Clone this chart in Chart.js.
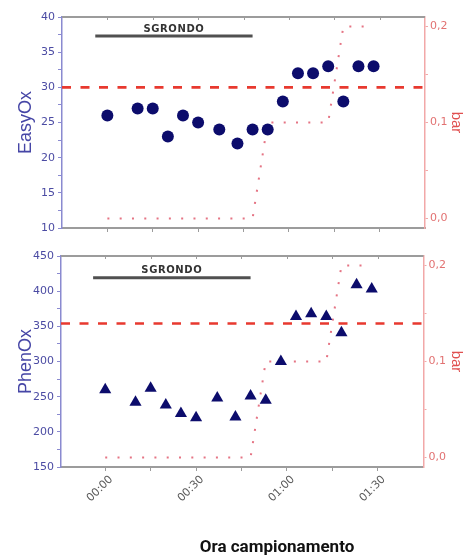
<!DOCTYPE html>
<html>
<head>
<meta charset="utf-8">
<script src="https://cdn.jsdelivr.net/npm/chart.js@4.4.1/dist/chart.umd.min.js"></script>
<style>
  html, body { margin: 0; padding: 0; background: #ffffff; }
  #wrap { position: relative; width: 463px; height: 557px; overflow: hidden; background: #fff; }
  #c1 { position: absolute; left: 0; top: 0; }
  #c2 { position: absolute; left: 0; top: 240px; }
  #xtitle { position: absolute; left: 277px; top: 536px; transform: translateX(-50%);
            font-family: Roboto, "Liberation Sans", sans-serif; font-weight: bold; font-size: 17px;
            line-height: 20px; color: #111; white-space: nowrap; }
</style>
</head>
<body>
<div id="wrap">
  <canvas id="c1" width="463" height="240"></canvas>
  <canvas id="c2" width="463" height="317"></canvas>
  <div id="xtitle">Ora campionamento</div>
</div>
<script>
// ---------------- data ----------------
const sampleMinutes = [0, 10, 15, 20, 25, 30, 37, 43, 48, 53, 58, 63, 68, 73, 78, 83, 88];
const easyOxValues  = [26, 27, 27, 23, 26, 25, 24, 22, 24, 24, 28, 32, 32, 33, 28, 33, 33];
const phenOxValues  = [260, 242, 262, 238, 226, 220, 248, 221, 251, 245, 300, 364, 368, 364, 341, 409, 403];

const pressureMinutes = [0, 48, 53, 73, 78, 88];
const pressureBar     = [0, 0, 0.1, 0.1, 0.2, 0.2];

const easyOxThreshold = 30;
const phenOxThreshold = 354;

const sgrondoLabel = 'SGRONDO';
const sgrondoMinutes = [-4, 48];
const sgrondoLevelEasyOx = 37.3;
const sgrondoLevelPhenOx = 419;

const xTickMinutes = [0, 15, 30, 45, 60, 75, 90];
const xTickLabels  = ['00:00', '', '00:30', '', '01:00', '', '01:30'];

const easyOxTicks      = [10, 12.5, 15, 17.5, 20, 22.5, 25, 27.5, 30, 32.5, 35, 37.5, 40];
const easyOxTickLabels = ['10', '', '15', '', '20', '', '25', '', '30', '', '35', '', '40'];
const phenOxTicks      = [150, 175, 200, 225, 250, 275, 300, 325, 350, 375, 400, 425, 450];
const phenOxTickLabels = ['150', '', '200', '', '250', '', '300', '', '350', '', '400', '', '450'];
const barTicks      = [0, 0.05, 0.1, 0.15, 0.2];
const barTickLabels = ['0,0', '', '0,1', '', '0,2'];

// ---------------- drawing ----------------
const BLUE_TXT = '#4b4ba3';
const BLUE_AX = '#8a8ad0';
const RED_TXT = '#e27272';
const RED_AX = '#f2a8a8';
const GRAY = '#9c9c9c';

const framePlugin = {
  id: 'frame',
  afterDatasetsDraw(chart, args, opts) {
    const { ctx, chartArea: a, scales } = chart;
    ctx.save();
    ctx.strokeStyle = GRAY;
    ctx.lineWidth = 2;
    ctx.beginPath(); ctx.moveTo(a.left, a.top); ctx.lineTo(a.right, a.top); ctx.stroke();
    ctx.lineWidth = 1;
    scales.x.ticks.forEach(t => {
      const px = Math.round(scales.x.getPixelForValue(t.value)) + 0.5;
      ctx.beginPath(); ctx.moveTo(px, a.top); ctx.lineTo(px, a.top + 3); ctx.stroke();
    });
    const x = scales.x.getPixelForValue((sgrondoMinutes[0] + sgrondoMinutes[1]) / 2);
    const y = scales.y.getPixelForValue(opts.level);
    ctx.font = 'bold 10px "DejaVu Sans"';
    try { ctx.letterSpacing = '0.6px'; } catch (e) {}
    ctx.fillStyle = '#333';
    ctx.textAlign = 'center';
    ctx.textBaseline = 'middle';
    ctx.fillText(sgrondoLabel, x, y - 7);
    ctx.restore();
  }
};

function ticksFrom(values) {
  return scale => { scale.ticks = values.map(v => ({ value: v })); };
}
function labelsFrom(values, labels) {
  return (v) => { const i = values.indexOf(v); return i >= 0 ? labels[i] : ''; };
}

function makePanel(id, o) {
  return new Chart(document.getElementById(id), {
    type: 'scatter',
    data: {
      datasets: [
        {
          label: 'points',
          data: sampleMinutes.map((m, i) => ({ x: m, y: o.values[i] })),
          pointStyle: o.pointStyle, pointRadius: o.radius,
          backgroundColor: '#0c0c6c', borderColor: '#0c0c6c', borderWidth: 0,
          yAxisID: 'y', order: 0
        },
        {
          label: 'sgrondo',
          data: sgrondoMinutes.map(m => ({ x: m, y: o.sgrondoLevel })),
          showLine: true, borderColor: '#505050', borderWidth: 3, pointRadius: 0,
          yAxisID: 'y', order: 1
        },
        {
          label: 'threshold',
          data: [{ x: o.xMin, y: o.threshold }, { x: o.xMax, y: o.threshold }],
          showLine: true, borderColor: '#e8392f', borderWidth: 2.6, borderDash: [9, 9.5],
          pointRadius: 0, yAxisID: 'y', order: 2
        },
        {
          label: 'bar',
          data: pressureMinutes.map((m, i) => ({ x: m, y: pressureBar[i] })),
          showLine: true, borderColor: 'rgba(224,92,110,0.85)', borderWidth: 2,
          borderDash: [2, 10.3], pointRadius: 0, yAxisID: 'y2', order: 3
        }
      ]
    },
    options: {
      responsive: false, animation: false, events: [],
      layout: { padding: { top: o.padTop, left: 0, right: 0, bottom: 0 } },
      plugins: { legend: { display: false }, tooltip: { enabled: false }, frame: { level: o.sgrondoLevel } },
      scales: {
        x: {
          type: 'linear', position: 'bottom', min: o.xMin, max: o.xMax,
          afterBuildTicks: ticksFrom(xTickMinutes),
          afterFit: s => { s.height = o.xHeight; },
          grid: { drawOnChartArea: false, drawTicks: true, tickLength: 4, tickColor: GRAY },
          border: { display: true, color: GRAY, width: 2 },
          ticks: {
            display: o.showX, autoSkip: false, minRotation: 45, maxRotation: 45,
            padding: 2, labelOffset: 6, color: '#5a5a5a',
            font: { family: 'DejaVu Sans', size: 11 },
            callback: labelsFrom(xTickMinutes, xTickLabels)
          }
        },
        y: {
          position: 'left', min: o.yMin, max: o.yMax,
          afterBuildTicks: ticksFrom(o.yTicks),
          afterFit: s => { s.width = o.leftW; },
          grid: { drawOnChartArea: false, drawTicks: true, tickLength: 4, tickColor: BLUE_AX },
          border: { display: true, color: BLUE_AX, width: 1.5 },
          ticks: {
            padding: 3, color: BLUE_TXT, font: { family: 'DejaVu Sans', size: 11 },
            callback: labelsFrom(o.yTicks, o.yTickLabels)
          },
          title: {
            display: true, text: o.title, color: '#4646a6',
            font: { family: 'Liberation Sans', size: 18 }, padding: { top: 15, bottom: 0 }
          }
        },
        y2: {
          position: 'right', min: -0.01, max: 0.21,
          afterBuildTicks: ticksFrom(barTicks),
          afterFit: s => { s.width = o.rightW; },
          grid: { drawOnChartArea: false, drawTicks: true, tickLength: 3, tickColor: RED_AX },
          border: { display: true, color: RED_AX, width: 1.5 },
          ticks: {
            padding: 2, color: RED_TXT, font: { family: 'DejaVu Sans', size: 11 },
            callback: labelsFrom(barTicks, barTickLabels)
          },
          title: {
            display: true, text: 'bar', color: '#e05050',
            font: { family: 'Liberation Sans', size: 15 }, padding: { top: -2, bottom: 0 }
          }
        }
      }
    },
    plugins: [framePlugin]
  });
}

makePanel('c1', {
  values: easyOxValues, pointStyle: 'circle', radius: 6,
  threshold: easyOxThreshold, sgrondoLevel: sgrondoLevelEasyOx,
  xMin: -15, xMax: 105, yMin: 10, yMax: 40,
  yTicks: easyOxTicks, yTickLabels: easyOxTickLabels, title: 'EasyOx',
  padTop: 17, xHeight: 12, leftW: 62, rightW: 38, showX: false
});

makePanel('c2', {
  values: phenOxValues, pointStyle: 'triangle', radius: 7,
  threshold: phenOxThreshold, sgrondoLevel: sgrondoLevelPhenOx,
  xMin: -14.6, xMax: 105.1, yMin: 150, yMax: 450,
  yTicks: phenOxTicks, yTickLabels: phenOxTickLabels, title: 'PhenOx',
  padTop: 16, xHeight: 90, leftW: 61, rightW: 39.5, showX: true
});
</script>
</body>
</html>
